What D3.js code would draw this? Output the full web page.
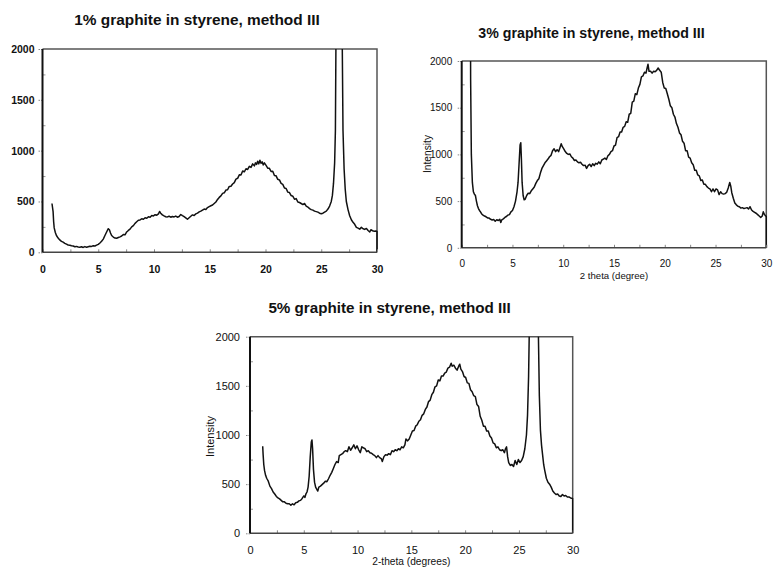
<!DOCTYPE html>
<html>
<head>
<meta charset="utf-8">
<script src="https://cdn.jsdelivr.net/npm/d3@7"></script>
<style>
  html, body { margin: 0; padding: 0; background: #fff; }
  svg { display: block; }
  text { font-family: "Liberation Sans", Arial, sans-serif; fill: #111; }
</style>
</head>
<body>
<svg id="chart" width="773" height="567"></svg>
<script>
// X-ray diffraction scans: [2-theta (deg), intensity (counts)]
const scan1 = [
  [0.85,480],[0.95,400],[1.0,300],[1.05,240],[1.15,195],[1.25,165],[1.4,140],[1.55,122],[1.7,108],[1.85,100],
  [2.0,88],[2.15,80],[2.3,72],[2.45,70],[2.6,64],[2.75,62],[2.9,55],[3.05,58],[3.2,52],[3.35,50],
  [3.5,54],[3.65,48],[3.8,56],[3.95,50],[4.1,55],[4.25,60],[4.4,58],[4.55,64],[4.7,62],[4.85,70],
  [5.0,78],[5.15,92],[5.3,108],[5.45,130],[5.6,165],[5.75,200],[5.9,232],[6.0,222],[6.1,190],[6.2,165],
  [6.35,150],[6.5,140],[6.65,138],[6.8,145],[6.95,152],[7.1,160],[7.25,175],[7.4,172],[7.55,200],[7.7,215],
  [7.85,228],[8.0,250],[8.15,262],[8.3,285],[8.45,300],[8.6,315],[8.75,318],[8.9,330],[9.05,325],[9.2,340],
  [9.35,335],[9.5,350],[9.65,345],[9.8,362],[9.95,358],[10.1,370],[10.25,365],[10.4,378],[10.5,402],[10.6,385],
  [10.75,368],[10.9,358],[11.05,350],[11.2,348],[11.35,355],[11.5,345],[11.65,352],[11.8,348],[11.95,356],[12.1,345],
  [12.25,352],[12.4,372],[12.55,360],[12.7,350],[12.85,338],[13.0,325],[13.15,340],[13.3,355],[13.45,368],[13.6,362],
  [13.75,378],[13.9,385],[14.05,398],[14.2,405],[14.35,415],[14.5,425],[14.65,422],[14.8,440],[14.95,450],[15.1,458],
  [15.25,465],[15.4,480],[15.55,495],[15.7,520],[15.85,540],[16.0,555],[16.15,580],[16.3,585],[16.45,612],[16.6,615],
  [16.75,648],[16.9,650],[17.05,672],[17.2,685],[17.35,720],[17.5,728],[17.65,762],[17.8,760],[17.95,800],[18.1,792],
  [18.25,822],[18.4,815],[18.55,845],[18.7,835],[18.85,870],[19.0,850],[19.1,880],[19.2,865],[19.3,895],[19.4,870],
  [19.5,905],[19.6,875],[19.7,890],[19.8,860],[19.9,880],[20.05,855],[20.2,828],[20.35,826],[20.5,795],[20.65,798],
  [20.8,755],[20.95,752],[21.1,718],[21.25,712],[21.4,678],[21.55,668],[21.7,632],[21.85,628],[22.0,592],[22.15,588],
  [22.3,558],[22.45,552],[22.6,522],[22.75,528],[22.9,495],[23.05,490],[23.2,480],[23.35,470],[23.5,480],[23.65,455],
  [23.8,445],[23.95,430],[24.1,420],[24.25,415],[24.4,405],[24.55,400],[24.7,395],[24.85,385],[25.0,380],[25.15,385],
  [25.3,395],[25.45,405],[25.6,425],[25.75,455],[25.9,500],[26.0,560],[26.1,680],[26.2,880],[26.27,1200],[26.32,2100],
  [26.45,4200],[26.6,5000],[26.75,4200],[26.88,2100],[26.95,1200],[27.05,820],[27.15,620],[27.25,500],[27.4,420],[27.55,360],
  [27.7,320],[27.85,295],[28.0,275],[28.15,245],[28.3,238],[28.45,228],[28.6,245],[28.75,232],[28.9,225],[29.05,235],
  [29.2,215],[29.35,200],[29.45,222],[29.6,212],[29.75,208],[29.9,210],[30.0,205],[30.0,0]
];

const scan3 = [
  [0.82,4000],[0.88,1800],[0.95,1000],[1.05,700],[1.15,600],[1.25,575],[1.35,560],[1.45,500],[1.55,450],[1.65,420],
  [1.75,400],[1.85,385],[1.95,365],[2.1,350],[2.25,340],[2.4,332],[2.55,320],[2.7,318],[2.85,305],[3.0,298],
  [3.15,302],[3.3,285],[3.45,300],[3.6,292],[3.75,305],[3.85,272],[3.95,300],[4.1,310],[4.25,325],[4.4,335],
  [4.55,350],[4.7,355],[4.85,385],[5.0,400],[5.15,440],[5.3,500],[5.45,600],[5.55,700],[5.65,900],[5.75,1100],
  [5.82,1125],[5.88,950],[5.95,700],[6.05,560],[6.15,515],[6.25,520],[6.4,560],[6.55,585],[6.7,580],[6.85,610],
  [7.0,630],[7.15,650],[7.3,690],[7.45,720],[7.6,740],[7.75,800],[7.9,850],[8.05,880],[8.2,910],[8.35,930],
  [8.5,950],[8.65,975],[8.8,990],[8.95,1040],[9.1,1060],[9.25,1030],[9.4,1050],[9.55,1030],[9.7,1080],[9.8,1115],
  [9.9,1085],[10.05,1060],[10.2,1030],[10.35,1010],[10.5,1000],[10.65,1005],[10.8,975],[10.95,960],[11.1,935],[11.25,940],
  [11.4,920],[11.55,910],[11.7,915],[11.85,895],[12.0,880],[12.15,885],[12.3,850],[12.45,880],[12.6,895],[12.75,870],
  [12.9,900],[13.05,880],[13.2,905],[13.35,895],[13.5,920],[13.65,900],[13.8,940],[13.95,950],[14.1,960],[14.25,945],
  [14.4,985],[14.55,1000],[14.7,1030],[14.85,1040],[15.0,1090],[15.15,1100],[15.3,1180],[15.45,1190],[15.6,1240],[15.75,1240],
  [15.9,1290],[16.05,1300],[16.2,1350],[16.35,1345],[16.5,1430],[16.65,1440],[16.8,1560],[16.95,1570],[17.1,1650],[17.25,1640],
  [17.4,1710],[17.55,1750],[17.7,1830],[17.85,1840],[18.0,1880],[18.15,1870],[18.25,1920],[18.35,1965],[18.45,1890],[18.6,1890],
  [18.75,1870],[18.9,1890],[19.05,1885],[19.2,1900],[19.35,1925],[19.5,1900],[19.65,1880],[19.8,1770],[19.95,1710],[20.1,1705],
  [20.25,1650],[20.4,1590],[20.55,1520],[20.7,1500],[20.85,1430],[21.0,1400],[21.15,1330],[21.3,1290],[21.45,1230],[21.6,1210],
  [21.75,1140],[21.9,1120],[22.05,1040],[22.2,1040],[22.35,970],[22.5,960],[22.65,910],[22.8,890],[22.95,830],[23.1,830],
  [23.25,780],[23.4,770],[23.55,720],[23.7,725],[23.85,680],[24.0,680],[24.15,655],[24.3,640],[24.45,630],[24.6,600],
  [24.75,630],[24.9,600],[25.05,630],[25.2,620],[25.35,570],[25.5,600],[25.65,580],[25.8,575],[25.95,580],[26.1,595],
  [26.25,640],[26.4,700],[26.5,660],[26.6,590],[26.75,530],[26.9,480],[27.05,460],[27.2,445],[27.35,440],[27.5,425],
  [27.65,430],[27.8,420],[27.95,425],[28.1,430],[28.25,415],[28.4,440],[28.55,405],[28.7,390],[28.85,380],[29.0,370],
  [29.15,355],[29.3,340],[29.45,325],[29.6,340],[29.7,385],[29.8,360],[29.9,345],[30.0,335],[30.0,0]
];

const scan5 = [
  [1.18,885],[1.22,800],[1.28,700],[1.35,640],[1.45,590],[1.55,560],[1.7,530],[1.85,480],[2.0,455],[2.15,420],
  [2.3,400],[2.45,375],[2.6,360],[2.75,350],[2.9,335],[3.05,320],[3.2,320],[3.35,305],[3.5,300],[3.65,300],
  [3.8,285],[3.95,300],[4.1,290],[4.25,310],[4.4,315],[4.55,330],[4.7,335],[4.85,355],[5.0,380],[5.1,365],
  [5.2,400],[5.3,420],[5.4,470],[5.5,580],[5.6,780],[5.7,930],[5.76,950],[5.82,860],[5.9,650],[6.0,520],
  [6.1,470],[6.2,450],[6.3,430],[6.4,470],[6.55,480],[6.7,495],[6.85,510],[7.0,530],[7.15,525],[7.3,555],
  [7.45,590],[7.6,620],[7.75,660],[7.9,700],[8.05,730],[8.2,720],[8.3,790],[8.45,800],[8.6,810],[8.75,830],
  [8.9,840],[9.05,830],[9.2,880],[9.35,845],[9.5,870],[9.65,900],[9.8,860],[9.95,890],[10.1,850],[10.25,820],
  [10.4,880],[10.55,870],[10.7,860],[10.85,830],[11.0,840],[11.15,820],[11.3,815],[11.45,800],[11.6,790],[11.75,770],
  [11.9,790],[12.05,770],[12.2,760],[12.3,730],[12.45,780],[12.6,800],[12.75,795],[12.9,810],[13.05,800],[13.2,840],
  [13.35,830],[13.5,850],[13.65,840],[13.8,860],[13.95,850],[14.1,880],[14.25,870],[14.4,900],[14.5,960],[14.65,940],
  [14.8,960],[14.95,1000],[15.1,1040],[15.25,1045],[15.4,1090],[15.55,1105],[15.7,1140],[15.85,1155],[16.0,1200],[16.15,1215],
  [16.3,1260],[16.45,1285],[16.6,1340],[16.75,1355],[16.9,1410],[17.05,1435],[17.2,1490],[17.35,1500],[17.5,1560],[17.65,1550],
  [17.8,1600],[17.95,1600],[18.1,1630],[18.25,1640],[18.4,1680],[18.55,1690],[18.7,1730],[18.8,1700],[18.95,1710],[19.1,1680],
  [19.25,1660],[19.4,1700],[19.5,1720],[19.6,1670],[19.75,1645],[19.9,1595],[20.05,1585],[20.2,1530],[20.35,1525],[20.5,1460],
  [20.65,1440],[20.8,1400],[20.95,1390],[21.1,1310],[21.25,1290],[21.4,1190],[21.55,1150],[21.7,1090],[21.85,1090],[22.0,1040],
  [22.15,1040],[22.3,990],[22.45,970],[22.6,920],[22.75,910],[22.9,870],[23.05,880],[23.2,850],[23.35,840],[23.5,850],
  [23.65,820],[23.75,860],[23.85,880],[23.95,780],[24.05,720],[24.2,690],[24.35,700],[24.5,680],[24.65,740],[24.8,700],
  [24.95,750],[25.1,720],[25.25,740],[25.4,780],[25.55,860],[25.7,1000],[25.8,1200],[25.9,1600],[25.97,2100],[26.2,4500],
  [26.4,5000],[26.6,4500],[26.8,2100],[26.9,1400],[27.0,1050],[27.1,900],[27.2,800],[27.3,700],[27.4,640],[27.55,560],
  [27.7,520],[27.85,500],[28.0,470],[28.15,430],[28.3,410],[28.45,395],[28.6,400],[28.75,380],[28.9,375],[29.05,395],
  [29.2,380],[29.35,385],[29.5,370],[29.65,370],[29.8,360],[30.0,355],[30.0,0]
];

const titles = [
  "1% graphite in styrene, method III",
  "3% graphite in styrene, method III",
  "5% graphite in styrene, method III"
];
const xTitles = [null, "2 theta (degree)", "2-theta (degrees)"];
const yTitles = [null, "Intensity", "Intensity"];
const xMajorTicks = [0, 5, 10, 15, 20, 25, 30];
const xAllTicks = [0, 2.5, 5, 7.5, 10, 12.5, 15, 17.5, 20, 22.5, 25, 27.5, 30];
const yMajorTicks = [0, 500, 1000, 1500, 2000];
const yMinorTicks = [250, 750, 1250, 1750];

// Panel geometry and text placement
const panels = [
  { data: scan1, title: titles[0], xTitle: xTitles[0], yTitle: yTitles[0],
    left: 42.5, right: 377, top: 49, bottom: 252.3,
    titleX: 197, titleY: 25, titleSize: 15.4,
    tickFont: 10.5, tickWeight: "bold", yPad: 4, xPad: 13 },
  { data: scan3, title: titles[1], xTitle: xTitles[1], yTitle: yTitles[1],
    left: 461.7, right: 766.3, top: 61, bottom: 247.8,
    titleX: 591.5, titleY: 38, titleSize: 14.2,
    tickFont: 10, tickWeight: "normal", yPad: 5.5, xPad: 12.6,
    xTitleY: 279, xTitleSize: 9.6, yTitleX: 427, yTitleY: 154, yTitleSize: 10.2 },
  { data: scan5, title: titles[2], xTitle: xTitles[2], yTitle: yTitles[2],
    left: 250, right: 572.7, top: 336.7, bottom: 533.3,
    titleX: 389.5, titleY: 312.7, titleSize: 15.2,
    tickFont: 11, tickWeight: "normal", yPad: 6, xPad: 12.7,
    xTitleY: 565, xTitleSize: 10.2, yTitleX: 210.5, yTitleY: 436.5, yTitleSize: 11 }
];

const svg = d3.select("#chart");

panels.forEach((p, i) => {
  const x = d3.scaleLinear().domain([0, 30]).range([p.left, p.right]);
  const y = d3.scaleLinear().domain([0, 2000]).range([p.bottom, p.top]);
  const g = svg.append("g");

  // Title
  g.append("text")
    .attr("x", p.titleX).attr("y", p.titleY)
    .attr("text-anchor", "middle")
    .style("font-size", p.titleSize + "px")
    .style("font-weight", "bold")
    .text(p.title);

  // Plot-area frame (top and right edges)
  g.append("path")
    .attr("d", `M${x(0)},${y(2000)}H${x(30)}V${y(0)}`)
    .attr("fill", "none").attr("stroke", "#555").attr("stroke-width", 1.5);

  // Trace, clipped to the plot area
  const clipId = "clip" + i;
  svg.append("clipPath").attr("id", clipId)
    .append("rect")
    .attr("x", x(0)).attr("y", y(2000))
    .attr("width", x(30) - x(0) + 1).attr("height", y(0) - y(2000));

  const line = d3.line().x(d => x(d[0])).y(d => y(d[1]));
  g.append("path")
    .datum(p.data)
    .attr("clip-path", `url(#${clipId})`)
    .attr("d", line)
    .attr("fill", "none")
    .attr("stroke", "#111")
    .attr("stroke-width", 1.5)
    .attr("stroke-linejoin", "round");

  // Y axis: major ticks outward with labels, minor ticks inward
  const yAxis = g.append("g").attr("transform", `translate(${x(0)},0)`)
    .call(d3.axisLeft(y).tickValues(yMajorTicks).tickSize(4).tickPadding(p.yPad).tickFormat(d3.format("d")));
  yAxis.select(".domain").remove();
  yAxis.selectAll(".tick line").attr("stroke", "#888").attr("stroke-dasharray", "1.5,1");
  yAxis.selectAll(".tick text")
    .style("font-size", p.tickFont + "px")
    .style("font-weight", p.tickWeight)
    .style("font-family", '"Liberation Sans", Arial, sans-serif')
    .attr("fill", "#111");

  const yMinor = g.append("g").attr("transform", `translate(${x(0)},0)`)
    .call(d3.axisLeft(y).tickValues(yMinorTicks).tickSize(-3).tickFormat(""));
  yMinor.select(".domain").remove();
  yMinor.selectAll(".tick line").attr("stroke", "#999");

  // X axis: small inward ticks every 2.5 degrees, labels every 5
  const xAxis = g.append("g").attr("transform", `translate(0,${y(0)})`)
    .call(d3.axisBottom(x).tickValues(xAllTicks).tickSize(-3).tickPadding(p.xPad)
      .tickFormat(d => xMajorTicks.includes(d) ? d3.format("d")(d) : ""));
  xAxis.select(".domain").remove();
  xAxis.selectAll(".tick line").attr("stroke", "#888");
  xAxis.selectAll(".tick text")
    .style("font-size", p.tickFont + "px")
    .style("font-weight", p.tickWeight)
    .style("font-family", '"Liberation Sans", Arial, sans-serif')
    .attr("fill", "#111");

  // Axis lines
  g.append("line")
    .attr("x1", x(0)).attr("x2", x(30)).attr("y1", y(0)).attr("y2", y(0))
    .attr("stroke", "#444").attr("stroke-width", 1.6);
  g.append("line")
    .attr("x1", x(0)).attr("x2", x(0)).attr("y1", y(2000)).attr("y2", y(0))
    .attr("stroke", "#111").attr("stroke-width", 2);

  // Axis titles
  if (p.xTitle) {
    g.append("text")
      .attr("x", (x(0) + x(30)) / 2).attr("y", p.xTitleY)
      .attr("text-anchor", "middle")
      .style("font-size", p.xTitleSize + "px")
      .text(p.xTitle);
  }
  if (p.yTitle) {
    g.append("text")
      .attr("transform", `translate(${p.yTitleX},${p.yTitleY}) rotate(-90)`)
      .attr("text-anchor", "middle")
      .attr("dy", "0.35em")
      .style("font-size", p.yTitleSize + "px")
      .text(p.yTitle);
  }
});
</script>
</body>
</html>
